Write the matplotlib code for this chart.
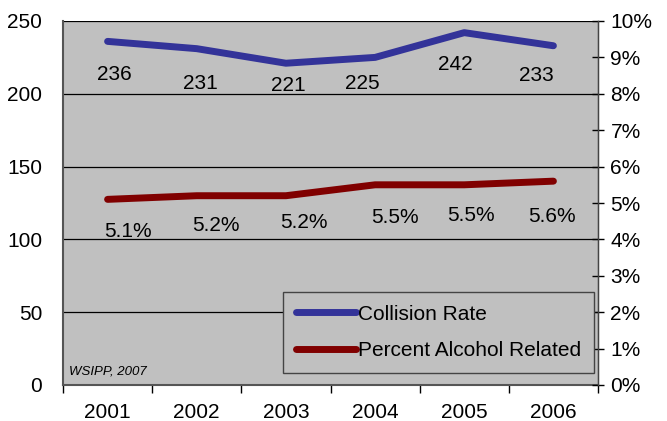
import matplotlib
matplotlib.use('Agg')
import matplotlib.pyplot as plt
import numpy as np

plt.rcParams['font.family'] = ['Liberation Sans', 'DejaVu Sans']

years = ['2001', '2002', '2003', '2004', '2005', '2006']
collision_rate = [236, 231, 221, 225, 242, 233]
pct_alcohol = [5.1, 5.2, 5.2, 5.5, 5.5, 5.6]

# label nudges (pixels), as placed in the original
rate_dx = [7, 4, 2, -13, -9, -17]
rate_dy = [-33, -35, -22, -26, -32, -30]
pct_dx = [20, 19, 18, 20, 7, -1]
pct_dy = [-32, -30, -27, -33, -31, -35]

blue = '#333399'
red = '#800000'
gray = '#C0C0C0'
fs = 15

fig = plt.figure(figsize=(6.67, 4.21), dpi=100)
ax = fig.add_axes([63 / 667, 1 - 385 / 421, 535 / 667, 364 / 421])
ax2 = ax.twinx()

x = np.arange(len(years)) + 0.5

ax.set_facecolor(gray)
ax.set_xlim(0, len(years))
ax.set_ylim(0, 250)
ax.set_yticks(np.arange(0, 251, 50))
for v in range(50, 251, 50):
    ax.axhline(v, color='black', lw=0.9, zorder=1)

ax.plot(x, collision_rate, color=blue, lw=5, solid_capstyle='round', zorder=3,
        label='Collision Rate')
for xi, v, dx, dy in zip(x, collision_rate, rate_dx, rate_dy):
    ax.annotate(str(v), (xi, v), xytext=(dx, dy), textcoords='offset pixels',
                ha='center', va='center', fontsize=fs)

ax2.set_ylim(0, 10)
ax2.set_yticks(np.arange(0, 11, 1))
ax2.set_yticklabels([f'{i}%' for i in range(11)])
ax2.plot(x, pct_alcohol, color=red, lw=5, solid_capstyle='round', zorder=3,
         label='Percent Alcohol Related')
for xi, v, dx, dy in zip(x, pct_alcohol, pct_dx, pct_dy):
    ax2.annotate(f'{v:.1f}%', (xi, v), xytext=(dx, dy), textcoords='offset pixels',
                 ha='center', va='center', fontsize=fs)

ax.set_xticks(np.arange(len(years) + 1))
ax.set_xticklabels([])
ax.set_xticks(x, minor=True)
ax.set_xticklabels(years, minor=True, fontsize=fs)
ax.tick_params(axis='x', which='major', length=6, width=1, direction='out')
ax.tick_params(axis='x', which='minor', length=0, pad=13)
ax.tick_params(axis='y', length=0, labelsize=fs, pad=15)
ax2.tick_params(axis='y', length=8, width=1, direction='inout', labelsize=fs, pad=5)

ax.spines['top'].set_visible(False)
ax2.spines['top'].set_visible(False)
ax.spines['left'].set_color('#555555')
ax.spines['left'].set_linewidth(1.5)
ax.spines['bottom'].set_color('#555555')
ax.spines['bottom'].set_linewidth(1.5)
ax2.spines['right'].set_color('#444444')
ax2.spines['right'].set_linewidth(1)
ax2.spines['left'].set_visible(False)
ax2.spines['bottom'].set_visible(False)

h1, l1 = ax.get_legend_handles_labels()
h2, l2 = ax2.get_legend_handles_labels()
leg = ax2.legend(h1 + h2, l1 + l2, loc='lower right', bbox_to_anchor=(0.992, 0.033),
                 borderaxespad=0, fontsize=fs, frameon=True, fancybox=False,
                 facecolor=gray, edgecolor='#444444', handlelength=2.9,
                 handletextpad=0.1, labelspacing=0.85, borderpad=0.6, framealpha=1)
leg.get_frame().set_linewidth(1)

ax.text(0.012, 0.02, 'WSIPP, 2007', transform=ax.transAxes, fontsize=9.5,
        style='italic', ha='left', va='bottom')

fig.savefig('out.png', dpi=100)
